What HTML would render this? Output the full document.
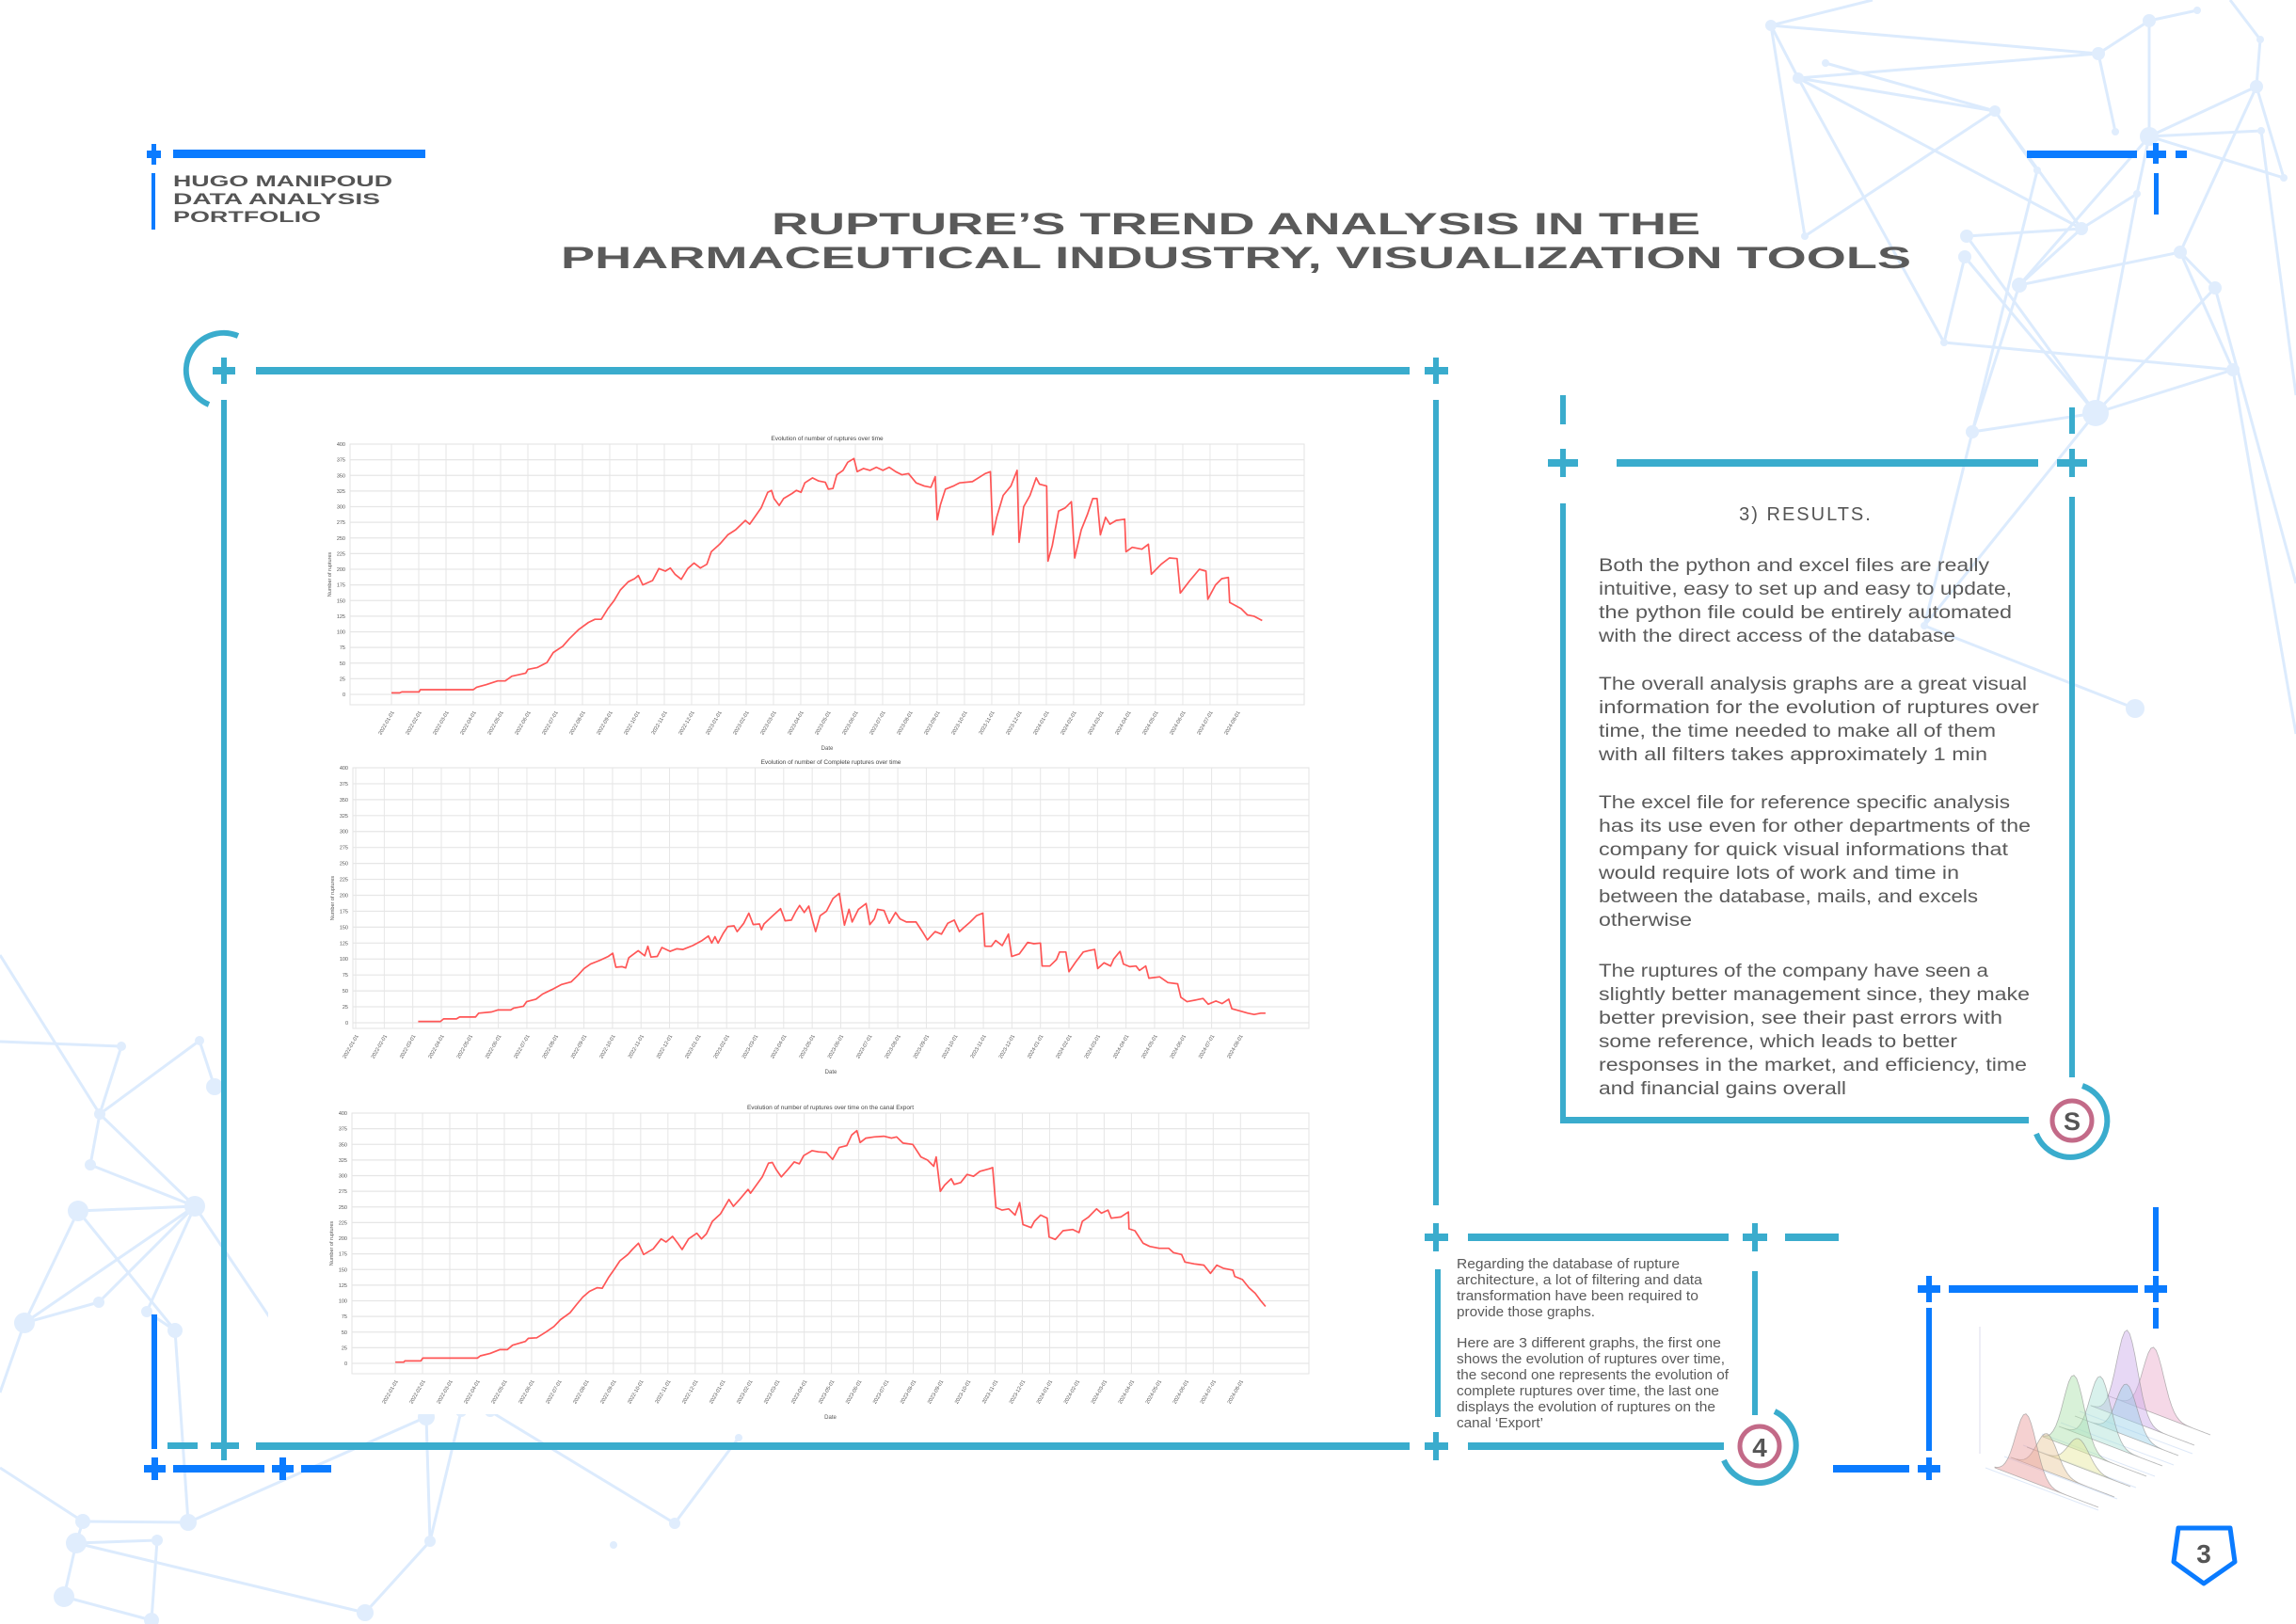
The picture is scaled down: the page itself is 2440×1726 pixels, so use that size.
<!DOCTYPE html>
<html><head><meta charset="utf-8"><title>Rupture's trend analysis</title>
<style>
html,body{margin:0;padding:0;background:#fff;}
svg{display:block;}
text{font-family:"Liberation Sans",sans-serif;}
</style></head>
<body>
<svg id="page" width="2440" height="1726" viewBox="0 0 2440 1726" xmlns="http://www.w3.org/2000/svg">
<rect x="0" y="0" width="2440" height="1726" fill="#fff"/>
<g id="net" stroke="#dcebfd" stroke-width="3" fill="#e0edfd"></g>
<rect x="285" y="425" width="1220" height="1078" fill="#fff"/>

<g>
  <rect x="156" y="160" width="15" height="8" fill="#0a7bff"/>
  <rect x="161" y="153" width="5" height="22" fill="#0a7bff"/>
  <rect x="184" y="159" width="268" height="9" fill="#0a7bff"/>
  <rect x="161" y="184" width="4" height="60" fill="#0a7bff"/>
  <text x="184" y="198" font-size="17" font-weight="bold" fill="#555" textLength="233" lengthAdjust="spacingAndGlyphs">HUGO MANIPOUD</text>
  <text x="184" y="217" font-size="17" font-weight="bold" fill="#555" textLength="220" lengthAdjust="spacingAndGlyphs">DATA ANALYSIS</text>
  <text x="184" y="236" font-size="17" font-weight="bold" fill="#555" textLength="157" lengthAdjust="spacingAndGlyphs">PORTFOLIO</text>
</g>
<g>
  <rect x="2154" y="160" width="117" height="8" fill="#0a7bff"/>
  <rect x="2281" y="160" width="21" height="8" fill="#0a7bff"/>
  <rect x="2288" y="152" width="6" height="22" fill="#0a7bff"/>
  <rect x="2312" y="160" width="12" height="8" fill="#0a7bff"/>
  <rect x="2289" y="184" width="5" height="44" fill="#0a7bff"/>
</g>
<text x="820" y="249" font-size="32" font-weight="bold" fill="#5a5a5a" textLength="987" lengthAdjust="spacingAndGlyphs">RUPTURE’S TREND ANALYSIS IN THE</text>
<text x="596" y="285" font-size="32" font-weight="bold" fill="#5a5a5a" textLength="1435" lengthAdjust="spacingAndGlyphs">PHARMACEUTICAL INDUSTRY, VISUALIZATION TOOLS</text>

<g fill="#3aaccd">
  <path d="M 253 357 A 39 39 0 1 0 222 430" fill="none" stroke="#3aaccd" stroke-width="6"/>
  <rect x="226" y="390" width="24" height="8"/><rect x="235" y="380" width="6" height="28"/>
  <rect x="272" y="390" width="1226" height="8"/>
  <rect x="1514" y="390" width="25" height="8"/><rect x="1523" y="380" width="6" height="28"/>
  <rect x="235" y="425" width="6" height="1095"/>
  <rect x="1523" y="425" width="6" height="856"/>
  <rect x="1514" y="1311" width="25" height="8"/><rect x="1523" y="1300" width="6" height="30"/>
  <rect x="1560" y="1311" width="277" height="8"/>
  <rect x="1852" y="1311" width="26" height="8"/><rect x="1862" y="1300" width="6" height="30"/>
  <rect x="1897" y="1311" width="57" height="8"/>
  <rect x="1525" y="1349" width="6" height="157"/>
  <rect x="1862" y="1351" width="6" height="153"/>
  <rect x="178" y="1533" width="32" height="7"/>
  <rect x="224" y="1533" width="30" height="7"/><rect x="235" y="1520" width="6" height="32"/>
  <rect x="272" y="1533" width="1226" height="8"/>
  <rect x="1514" y="1533" width="25" height="8"/><rect x="1523" y="1522" width="6" height="30"/>
  <rect x="1560" y="1533" width="272" height="8"/>
</g>
<g fill="#0a7bff">
  <rect x="161" y="1397" width="6" height="143"/>
  <rect x="153" y="1557" width="23" height="8"/><rect x="161" y="1549" width="7" height="24"/>
  <rect x="184" y="1557" width="97" height="8"/>
  <rect x="289" y="1557" width="23" height="8"/><rect x="297" y="1549" width="7" height="24"/>
  <rect x="320" y="1557" width="32" height="8"/>
</g>

<g fill="#3aaccd">
  <rect x="1658" y="420" width="6" height="31"/>
  <rect x="1645" y="488" width="32" height="8"/><rect x="1658" y="477" width="6" height="30"/>
  <rect x="1718" y="488" width="448" height="8"/>
  <rect x="2186" y="488" width="32" height="8"/><rect x="2199" y="477" width="6" height="30"/>
  <rect x="2199" y="433" width="6" height="28"/>
  <rect x="1658" y="535" width="6" height="658"/>
  <rect x="2199" y="528" width="6" height="617"/>
  <rect x="1658" y="1187" width="498" height="7"/>
</g>
<g>
  <path d="M 2213 1154 A 39 39 0 1 1 2164 1205" fill="none" stroke="#3aaccd" stroke-width="6"/>
  <circle cx="2202" cy="1191" r="21" fill="#fff" stroke="#c36a88" stroke-width="5"/>
  <text x="2202" y="1201" font-size="27" font-weight="bold" fill="#555" text-anchor="middle">S</text>
</g>
<g>
  <path d="M 1886 1500 A 40 40 0 1 1 1832 1552" fill="none" stroke="#3aaccd" stroke-width="6"/>
  <circle cx="1870" cy="1537" r="21" fill="#fff" stroke="#c36a88" stroke-width="5"/>
  <text x="1870" y="1548" font-size="28" font-weight="bold" fill="#555" text-anchor="middle">4</text>
</g>
<text x="1919" y="553" font-size="20" fill="#555" text-anchor="middle" letter-spacing="2">3) RESULTS.</text>
<g id="results" font-size="19" fill="#5a5a5a"></g>
<g id="notes" font-size="15" fill="#5a5a5a"></g>

<g fill="#0a7bff">
  <rect x="2288" y="1283" width="6" height="68"/>
  <rect x="2288" y="1390" width="6" height="22"/>
  <rect x="2038" y="1366" width="24" height="8"/><rect x="2047" y="1356" width="6" height="28"/>
  <rect x="2071" y="1366" width="201" height="8"/>
  <rect x="2279" y="1366" width="24" height="8"/><rect x="2288" y="1356" width="6" height="28"/>
  <rect x="2047" y="1390" width="6" height="152"/>
  <rect x="1948" y="1557" width="81" height="8"/>
  <rect x="2038" y="1557" width="24" height="8"/><rect x="2047" y="1549" width="6" height="24"/>
</g>
<g id="ridge"></g>
<g>
  <polygon points="2315,1624 2370,1624 2375,1660 2342,1683 2310,1660" fill="#fff" stroke="#0a7bff" stroke-width="5" stroke-linejoin="round"/>
  <text x="2342" y="1661" font-size="28" font-weight="bold" fill="#555" text-anchor="middle">3</text>
</g>

<g id="charts"></g>
</svg>

<script>
const NS = "http://www.w3.org/2000/svg";
function mk(tag, attrs, parent){ const e=document.createElementNS(NS,tag); for(const k in attrs) e.setAttribute(k,attrs[k]); parent.appendChild(e); return e; }

const tickMonths = [0,1,2,3,4,5,6,7,8,9,10,11,12,13,14,15,16,17,18,19,20,21,22,23,24,25,26,27,28,29,30,31];
const yTicks = [0,25,50,75,100,125,150,175,200,225,250,275,300,325,350,375,400];

const allMonths = [0,0.30,0.38,1.01,1.06,3.0,3.12,3.47,3.89,4.17,4.41,4.92,5.0,5.35,5.70,5.93,6.28,6.52,6.87,7.22,7.46,7.69,7.93,8.16,8.39,8.68,8.91,9.05,9.21,9.57,9.80,10.04,10.22,10.39,10.62,10.86,11.09,11.32,11.56,11.72,12.03,12.33,12.61,12.97,13.13,13.55,13.79,13.93,14.02,14.21,14.37,14.68,14.84,15.01,15.15,15.43,15.66,15.90,16.01,16.18,16.32,16.55,16.72,16.95,17.07,17.30,17.54,17.77,18.01,18.24,18.48,18.71,18.95,19.23,19.53,19.77,19.93,20.0,20.12,20.30,20.59,20.82,21.29,21.76,21.95,22.04,22.18,22.42,22.70,22.93,23.0,23.17,23.40,23.63,23.75,24.01,24.06,24.22,24.45,24.69,24.92,25.04,25.28,25.51,25.70,25.86,25.98,26.17,26.33,26.56,26.87,26.92,27.15,27.50,27.74,27.85,28.21,28.51,28.79,28.91,29.26,29.61,29.85,29.92,30.20,30.43,30.67,30.72,31.14,31.37,31.61,31.91];
const allValues = [2.5,2.5,4,4,7.5,7.5,11.5,15.5,21.6,21.6,29,34,40,43,51,67,77,89,104,115,120,120,137,150,167,180,185,190,175,182,201,197,202,192,184,201,210,202,208,228,240,255,263,278,272,298,323,326,313,302,313,321,326,323,338,346,341,339,328,329,351,358,371,377,356,361,358,363,358,363,356,351,353,338,333,331,348,279,303,328,333,338,340,353,356,255,283,318,333,358,243,300,318,346,336,333,213,238,293,298,308,218,263,288,313,313,255,283,272,278,280,228,235,232,240,192,208,218,217,162,182,200,197,152,175,185,187,147,137,127,125,118];

const completeMonths = [2.19,2.97,3.08,3.53,3.64,4.20,4.31,4.76,4.98,5.43,5.54,5.88,5.99,6.32,6.55,6.88,7.22,7.55,7.78,8.00,8.23,8.56,8.85,9.01,9.12,9.34,9.46,9.57,9.90,10.13,10.24,10.35,10.57,10.73,11.02,11.25,11.47,11.81,12.14,12.36,12.48,12.59,12.70,12.88,13.04,13.26,13.37,13.60,13.78,13.93,14.15,14.22,14.31,14.60,14.89,15.05,15.27,15.43,15.56,15.72,15.88,16.01,16.12,16.28,16.50,16.73,16.95,17.13,17.29,17.40,17.62,17.89,18.02,18.18,18.29,18.52,18.70,18.92,19.08,19.30,19.64,19.86,20.04,20.31,20.53,20.75,20.98,21.16,21.31,21.54,21.76,21.98,22.05,22.28,22.43,22.66,22.88,22.99,23.26,23.44,23.55,23.77,24.0,24.06,24.33,24.56,24.67,24.89,25.0,25.23,25.50,25.68,25.90,26.01,26.23,26.46,26.57,26.79,26.91,27.13,27.35,27.47,27.69,27.80,28.18,28.47,28.81,28.92,29.14,29.48,29.70,29.88,30.15,30.37,30.60,30.71,31.04,31.27,31.49,31.72,31.89];
const completeValues = [2,2,6,6,9,9,15,17,20,20,23,26,33,37,45,52,60,64,74,85,92,98,104,109,87,88,86,102,113,105,120,103,104,118,112,116,115,121,129,136,125,135,125,140,151,152,143,156,172,154,155,146,155,167,179,160,161,175,184,173,183,161,143,168,175,195,203,153,178,158,178,187,154,163,178,176,156,173,163,158,158,143,130,143,139,156,161,143,149,158,168,172,120,120,129,121,139,104,108,119,126,124,125,89,89,99,111,111,80,95,111,113,115,85,94,89,100,112,92,88,89,82,89,70,72,63,61,40,33,36,38,29,34,30,37,22,18,15,13,15,15];

const exportMonths = [0,0.31,0.35,0.94,1.01,3.01,3.12,3.48,3.83,4.11,4.30,4.77,4.88,5.19,5.52,5.82,6.06,6.41,6.65,6.88,7.12,7.40,7.59,7.82,8.06,8.24,8.53,8.69,8.92,9.11,9.46,9.75,9.93,10.17,10.36,10.52,10.76,11.06,11.23,11.41,11.63,11.93,12.24,12.40,12.63,12.94,13.03,13.46,13.69,13.83,13.97,14.16,14.40,14.63,14.82,14.98,15.29,15.52,15.81,16.04,16.28,16.56,16.74,16.93,17.05,17.26,17.57,17.92,18.20,18.39,18.62,18.98,19.28,19.52,19.75,19.84,19.99,20.15,20.39,20.50,20.74,20.97,21.21,21.44,21.79,21.91,22.03,22.26,22.50,22.73,22.90,23.02,23.32,23.44,23.67,23.91,23.98,24.21,24.49,24.85,25.08,25.20,25.43,25.72,25.90,26.14,26.26,26.61,26.89,26.91,27.13,27.43,27.67,28.02,28.37,28.54,28.84,28.96,29.31,29.66,29.90,30.13,30.37,30.72,30.79,31.07,31.31,31.54,31.73,31.92];
const exportValues = [2,2,4,4,8.5,8.5,12,16,22,22,29,35,40,41,50,59,70,81,94,106,115,121,120,137,152,164,174,182,192,174,183,199,194,203,192,182,199,208,199,207,227,239,262,251,262,278,272,298,320,321,310,298,310,322,319,332,340,338,337,326,345,348,365,372,353,360,362,363,360,362,352,350,330,325,315,330,275,285,295,286,289,302,299,307,311,313,249,245,247,237,257,222,217,227,237,232,202,198,212,214,209,227,234,247,240,245,232,234,242,215,212,192,187,184,184,177,174,162,159,157,144,157,152,149,139,134,121,112,101,91];

const chartTitles = ["Evolution of number of ruptures over time","Evolution of number of Complete ruptures over time","Evolution of number of ruptures over time on the canal Export"];

function monthLabel(m){ const y=2022+Math.floor(m/12); const mo=(m%12)+1; return y+"-"+(mo<10?"0":"")+mo+"-01"; }

function drawChart(parent, box, xlim, ylim, xs, ys, title, name){
  const g = mk("g",{},parent);
  
  
  const X = m => box.l + (m - xlim[0])/(xlim[1]-xlim[0])*(box.r-box.l);
  const Y = v => box.b - (v - ylim[0])/(ylim[1]-ylim[0])*(box.b-box.t);
  mk("rect",{x:box.l,y:box.t,width:box.r-box.l,height:box.b-box.t,fill:"#fff",stroke:"#e3e3e3","stroke-width":1},g);
  yTicks.forEach(v=>{
    const y=Y(v);
    const gl=mk("line",{x1:box.l,x2:box.r,y1:y,y2:y,stroke:"#e6e6e6","stroke-width":1.2},g);
    
    
    const t=mk("text",{x:box.l-5,y:y+2,"font-size":5.5,fill:"#555","text-anchor":"end"},g);
    
    
    t.textContent=v;
  });
  tickMonths.forEach(m=>{
    const x=X(m);
    const gl=mk("line",{x1:x,x2:x,y1:box.t,y2:box.b,stroke:"#e6e6e6","stroke-width":1},g);
    
    
    const t=mk("text",{x:x+3,y:box.b+8,"font-size":5.5,fill:"#555","text-anchor":"end",transform:"rotate(-60 "+(x+3)+" "+(box.b+8)+")"},g);
    
    
    t.textContent=monthLabel(m);
  });
  let d="";
  xs.forEach((m,i)=>{ d += (i?"L":"M")+X(m).toFixed(1)+" "+Y(ys[i]).toFixed(1)+" "; });
  const p=mk("path",{d:d,fill:"none",stroke:"#ff4444","stroke-width":1.7,"stroke-linejoin":"round","stroke-opacity":0.9},g);
  
  
  const tt=mk("text",{x:(box.l+box.r)/2,y:box.t-4,"font-size":6.5,fill:"#444","text-anchor":"middle"},g);
  
  
  tt.textContent=title;
  const xl=mk("text",{x:(box.l+box.r)/2,y:box.b+48,"font-size":6,fill:"#555","text-anchor":"middle"},g);
  
  
  xl.textContent="Date";
  const yx=box.l-20, yy=(box.t+box.b)/2;
  const yl=mk("text",{x:yx,y:yy,"font-size":5.5,fill:"#555","text-anchor":"middle",transform:"rotate(-90 "+yx+" "+yy+")"},g);
  
  
  yl.textContent="Number of ruptures";
}
const charts=document.getElementById("charts");
drawChart(charts,{l:372,r:1386,t:472,b:749},[-1.517,33.45],[-16.5,400],allMonths,allValues,chartTitles[0],"ruptures-chart");
drawChart(charts,{l:375,r:1391,t:816,b:1093},[-0.1,33.41],[-8.9,400],completeMonths,completeValues,chartTitles[1],"complete-ruptures-chart");
drawChart(charts,{l:374,r:1391,t:1183,b:1460},[-1.59,33.51],[-16.5,400],exportMonths,exportValues,chartTitles[2],"export-ruptures-chart");

const resultLines = [
 ["Both the python and excel files are really",607,415],
 ["intuitive, easy to set up and easy to update,",632,439],
 ["the python file could be entirely automated",657,439],
 ["with the direct access of the database",682,379],
 ["The overall analysis graphs are a great visual",733,455],
 ["information for the evolution of ruptures over",758,468],
 ["time, the time needed to make all of them",783,422],
 ["with all filters takes approximately 1 min",808,413],
 ["The excel file for reference specific analysis",859,437],
 ["has its use even for other departments of the",884,459],
 ["company for quick visual informations that",909,435],
 ["would require lots of work and time in",934,383],
 ["between the database, mails, and excels",959,403],
 ["otherwise",984,99],
 ["The ruptures of the company have seen a",1038,414],
 ["slightly better management since, they make",1063,458],
 ["better prevision, see their past errors with",1088,429],
 ["some reference, which leads to better",1113,381],
 ["responses in the market, and efficiency, time",1138,455],
 ["and financial gains overall",1163,263]];
const resG=document.getElementById("results");
resultLines.forEach(l=>{
  const t=mk("text",{x:1699,y:l[1],textLength:l[2],lengthAdjust:"spacingAndGlyphs"},resG);
  
  
  t.textContent=l[0];
});
const noteLines = [
 ["Regarding the database of rupture",1348,237],
 ["architecture, a lot of filtering and data",1365,261],
 ["transformation have been required to",1382,257],
 ["provide those graphs.",1399,147],
 ["Here are 3 different graphs, the first one",1432,281],
 ["shows the evolution of ruptures over time,",1449,285],
 ["the second one represents the evolution of",1466,289],
 ["complete ruptures over time, the last one",1483,279],
 ["displays the evolution of ruptures on the",1500,275],
 ["canal ‘Export’",1517,92]];
const noteG=document.getElementById("notes");
noteLines.forEach(l=>{
  const t=mk("text",{x:1548,y:l[1],textLength:l[2],lengthAdjust:"spacingAndGlyphs"},noteG);
  
  
  t.textContent=l[0];
});

const netNodes = [[1882,27,6],[1940,67,4],[1911,83,6],[2120,118,6],[2230,57,7],[2284,22,7],[2335,11,4],[2402,42,4],[2398,92,7],[2284,145,10],[2248,140,4],[2165,181,4],[2271,206,4],[2403,139,4],[2427,189,4],[2212,243,7],[2090,251,7],[2088,273,7],[1918,251,4],[2146,303,8],[2317,268,7],[2354,306,7],[2066,364,4],[2373,393,7],[2227,439,14],[2096,459,7],[2269,753,10],[2045,665,4],
 [129,1112,5],[212,1106,5],[228,1155,9],[106,1184,6],[96,1238,6],[83,1287,11],[207,1282,11],[105,1384,6],[156,1394,6],[26,1406,11],[186,1414,8],[453,1506,9],[490,1500,6],[521,1500,6],[88,1617,8],[81,1640,11],[167,1637,6],[200,1618,9],[457,1638,6],[652,1642,4],[717,1619,6],[68,1697,11],[388,1714,9],[785,1528,4],[161,1722,8]];
const netEdges = [[0,2],[0,4],[0,18],[2,4],[2,3],[2,15],[2,22],[1,3],[3,15],[3,18],[4,5],[4,10],[5,9],[5,6],[9,8],[9,19],[9,12],[9,14],[8,14],[7,8],[8,20],[13,9],[16,24],[17,24],[17,22],[16,15],[15,19],[15,12],[11,27],[12,24],[19,20],[20,21],[20,23],[21,24],[23,24],[22,23],[19,25],[25,24],[24,27],[26,27],[3,11],
 [28,31],[29,31],[29,30],[31,34],[31,32],[32,34],[33,34],[33,38],[34,35],[34,37],[34,36],[36,38],[35,37],[38,45],[39,46],[40,46],[41,48],[42,45],[42,43],[43,49],[43,44],[44,52],[45,39],[43,50],[46,50],[49,52],[48,51],[33,37]];
const netExtra = [[0,1107,28],[0,1015,31],[2440,620,21],[2440,420,13],[2440,780,23],[1990,0,0],[2370,0,7],[0,1560,42],[0,1480,37],[300,1420,34]];
const net=document.getElementById("net");
netEdges.forEach(e=>{ const a=netNodes[e[0]], b=netNodes[e[1]];
  const l=mk("line",{x1:a[0],y1:a[1],x2:b[0],y2:b[1]},net);
  
  
});
netExtra.forEach(e=>{ const b=netNodes[e[2]];
  const l=mk("line",{x1:e[0],y1:e[1],x2:b[0],y2:b[1]},net);
  
  
});
netNodes.forEach(n=>{
  const c=mk("circle",{cx:n[0],cy:n[1],r:n[2],stroke:"none"},net);
  
  
});

const ridgeLabels = ["A","B","C","D","E","F","G","H"];
const ridgeMeans = [0.3,0.35,0.5,0.3,0.4,0.5,0.35,0.45];
const ridgeHeights = [70,40,30,78,70,55,95,70];
const ridgeColors = ["#e89a9a","#e8c79a","#e6e69a","#a9e0a9","#a9e0d4","#9ad0e8","#c9a9e8","#e8a9c9"];
const ridge=document.getElementById("ridge");
for(let k=0;k<6;k++){
  const gl=mk("line",{x1:2110+k*20,y1:1560-k*12,x2:2230+k*20,y2:1605-k*12,stroke:"#dde8f8","stroke-width":1},ridge);
  
  
}
for(let i=ridgeLabels.length-1;i>=0;i--){
  const ox=2120+i*17, oy=1560-i*11;
  let d="M"+ox+" "+oy+" ";
  for(let s=0;s<=40;s++){
    const f=s/40, bx=ox+f*110, by=oy+f*42;
    const h=ridgeHeights[i]*Math.exp(-Math.pow((f-ridgeMeans[i])/0.1,2)/2);
    d+="L"+bx.toFixed(1)+" "+(by-h).toFixed(1)+" ";
  }
  d+="L"+(ox+110)+" "+(oy+42)+" Z";
  const p=mk("path",{d:d,fill:ridgeColors[i],"fill-opacity":0.45,stroke:"#888","stroke-width":0.8,"stroke-opacity":0.6},ridge);
  
  
}
const ax=mk("line",{x1:2104,y1:1410,x2:2104,y2:1545,stroke:"#dde",'stroke-width':1},ridge);


</script>
</body></html>
